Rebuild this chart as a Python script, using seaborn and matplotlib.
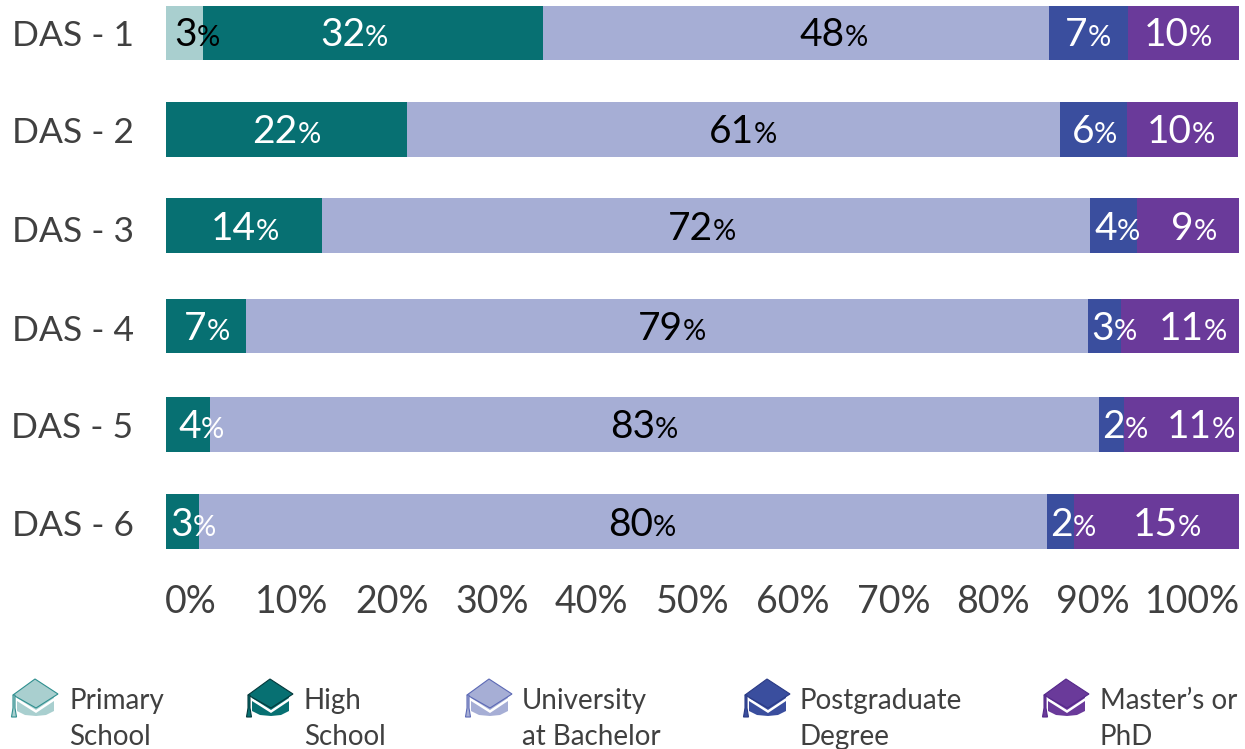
import numpy as np
import pandas as pd
import matplotlib.pyplot as plt
import seaborn as sns
from matplotlib.patches import Polygon
from matplotlib.transforms import Affine2D

# Datos
rows = ["DAS - 1", "DAS - 2", "DAS - 3", "DAS - 4", "DAS - 5", "DAS - 6"]
levels = ["Primary\nSchool", "High\nSchool", "University\nat Bachelor",
          "Postgraduate\nDegree", "Master\u2019s or\nPhD"]

# largo de cada tramo (%), tal como esta dibujado
primary = [3.5, 0, 0, 0, 0, 0]
high = [31.7, 22.5, 14.6, 7.5, 4.1, 3.1]
bachelor = [47.1, 60.8, 71.5, 78.4, 82.9, 79.0]
postgrad = [7.35, 6.3, 4.4, 3.1, 2.3, 2.5]
master = [10.35, 10.35, 9.5, 11.0, 10.7, 15.4]
segments = [primary, high, bachelor, postgrad, master]

# etiquetas impresas
primary_lab = [3, None, None, None, None, None]
high_lab = [32, 22, 14, 7, 4, 3]
bachelor_lab = [48, 61, 72, 79, 83, 80]
postgrad_lab = [7, 6, 4, 3, 2, 2]
master_lab = [10, 10, 9, 11, 11, 15]
labels = [primary_lab, high_lab, bachelor_lab, postgrad_lab, master_lab]

# donde termina el numero y empieza el signo %, en unidades del eje
primary_at = [2.9, None, None, None, None, None]
high_at = [18.6, 12.3, 8.4, 3.8, 3.3, 2.5]
bachelor_at = [63.3, 54.8, 51.0, 48.2, 45.6, 45.4]
postgrad_at = [85.9, 86.5, 88.6, 88.3, 89.4, 84.5]
master_at = [95.3, 95.6, 95.8, 96.7, 97.5, 94.3]
label_at = [primary_at, high_at, bachelor_at, postgrad_at, master_at]

colors = ["#A9CFCF", "#077072", "#A6AED5", "#3A4E9E", "#6A3A9A"]
outlines = ["#2F8F8F", "#04383A", "#5C69B5", "#2A3A85", "#55288A"]
label_colors = ["black", "white", "black", "white", "white"]

xtick_labels = ["0%", "10%", "20%", "30%", "40%", "50%",
                "60%", "70%", "80%", "90%", "100%"]
xtick_at = [2.33, 11.74, 21.06, 30.4, 39.7, 49.1, 58.4, 67.8, 77.1, 86.4, 95.7]

# las filas no estan a distancia exacta; eje y en pixeles
row_y = [33, 129.5, 225.5, 326, 424.5, 521.5]
row_label_y = [33, 130, 229, 328, 425, 523]
value_label_y = [33, 130, 227, 327, 425, 523]

W, H = 1245, 749
TEXT = "#404040"

sns.set_theme(style="white")
plt.rcParams["font.family"] = ["Lato", "DejaVu Sans"]

fig = plt.figure(figsize=(W / 100, H / 100), dpi=100)
ax = fig.add_axes([165.5 / W, 1 - 560 / H, (1239 - 165.5) / W, 560 / H])

left = np.zeros(len(rows))
for seg, color in zip(segments, colors):
    df = pd.DataFrame({"row": row_y, "value": seg})
    sns.barplot(data=df, y="row", x="value", left=left, color=color,
                saturation=1, width=0.568, orient="h", native_scale=True,
                linewidth=0, ax=ax)
    left = left + np.array(seg)

for lab, at, tcolor in zip(labels, label_at, label_colors):
    for val, x, y in zip(lab, at, value_label_y):
        if val is None:
            continue
        ax.text(x, y + 13, str(val), ha="right", va="baseline",
                fontsize=28, color=tcolor)
        ax.text(x, y + 13, "%", ha="left", va="baseline",
                fontsize=21, color=tcolor)

ax.set_xlim(0, 100)
ax.set_ylim(560, 0)
ax.set_xlabel("")
ax.set_ylabel("")
ax.set_xticks(xtick_at, xtick_labels)
ax.set_yticks(row_label_y, rows)
ax.tick_params(axis="x", length=0, pad=17, labelsize=27, labelcolor=TEXT)
ax.tick_params(axis="y", length=0, pad=23, labelsize=25.5, labelcolor=TEXT)
sns.despine(ax=ax, left=True, bottom=True)
ax.patch.set_alpha(0)

# Leyenda: birretes dibujados a mano, en pixeles de la figura
px = Affine2D().scale(1 / W, -1 / H).translate(0, 1) + fig.transFigure


def draw_cap(x0, color, edge):
    body = [(4, 696), (41, 696), (41, 711), (33, 715), (23, 716), (12, 715), (4, 711)]
    board = [(0, 695), (22, 679), (45, 694), (23, 708)]
    tassel = [(0, 695), (2, 695), (2, 708), (3.5, 717), (-1.5, 717), (0, 708)]
    chevron = [(4, 698), (23, 710), (41, 698), (41, 701), (23, 713), (4, 701)]
    for pts, fc, ec in [(body, color, "none"), (chevron, "white", "none"),
                        (board, color, edge), (tassel, color, edge)]:
        pts = [(x0 + x, y) for x, y in pts]
        fig.add_artist(Polygon(pts, closed=True, facecolor=fc, edgecolor=ec,
                               linewidth=0.8, transform=px))


cap_x = [13, 248, 467, 745, 1044]
text_x = [69, 304, 522, 800, 1100]
for name, cx, tx, color, edge in zip(levels, cap_x, text_x, colors, outlines):
    draw_cap(cx, color, edge)
    fig.text(tx / W, 1 - 719 / H, name, ha="left", va="center", fontsize=20,
             color=TEXT, linespacing=1.52)

fig.savefig("out.png", dpi=100, facecolor="white")
